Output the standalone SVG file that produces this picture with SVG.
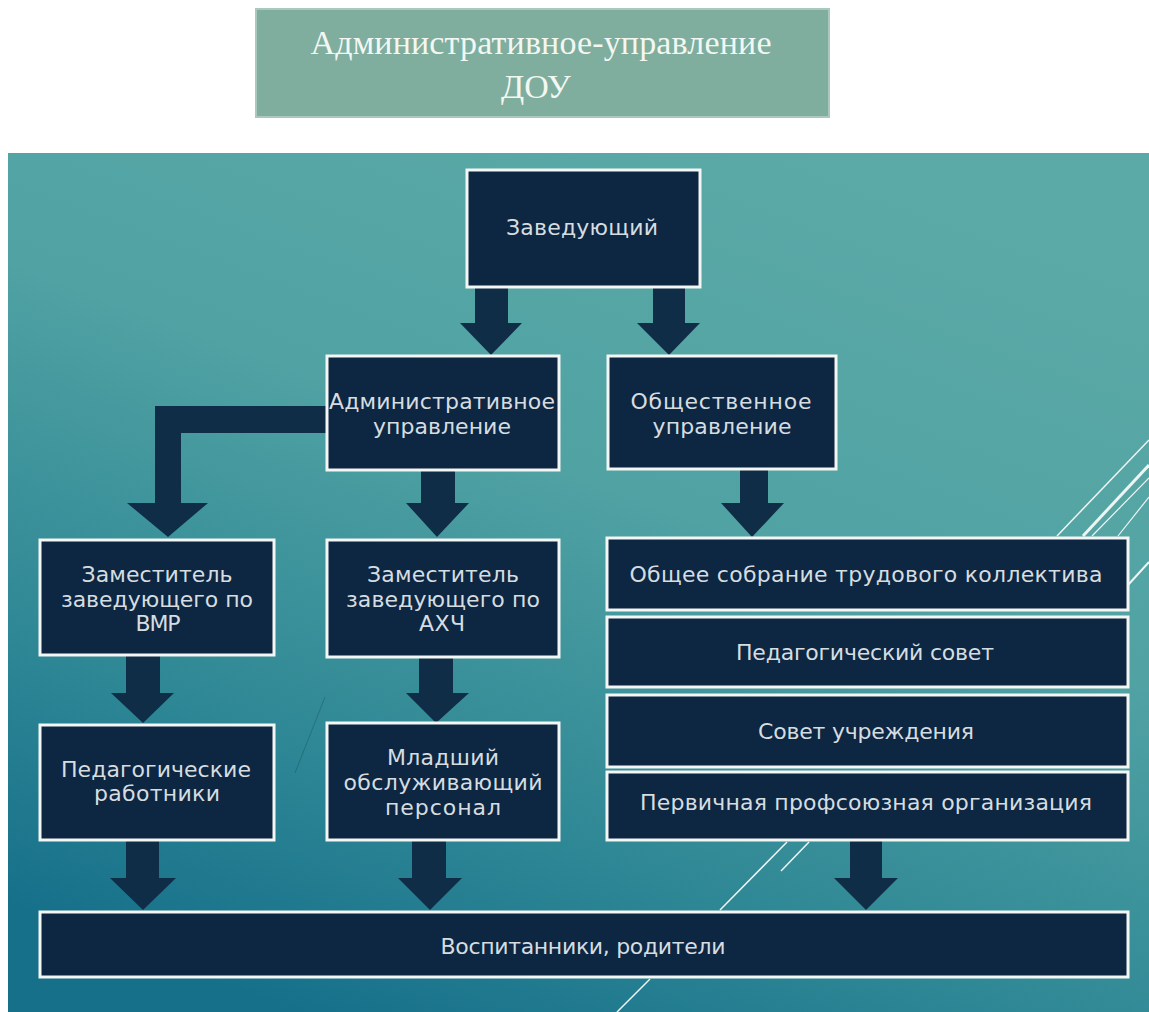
<svg xmlns="http://www.w3.org/2000/svg" width="1149" height="1012" viewBox="0 0 1149 1012">
<defs>
<linearGradient id="bg" x1="0.75" y1="0" x2="0.25" y2="1">
<stop offset="0" stop-color="#5caaa7"/>
<stop offset="0.4" stop-color="#50a2a3"/>
<stop offset="0.75" stop-color="#2e8795"/>
<stop offset="1" stop-color="#16708a"/>
</linearGradient>
<style>
.node rect{fill:#0d2742;stroke:#f4f6f4;stroke-width:3}
.node text{font-family:"DejaVu Sans","Noto Sans",sans-serif;font-size:22px;fill:#d6dde0;text-anchor:middle}
.arrow{fill:#0f2d47}
.deco{stroke:#eef6f4;fill:none}
.title{font-family:"Liberation Serif","DejaVu Serif",serif;font-size:34px;fill:#f3f7f3;text-anchor:middle}
</style>
</defs>
<rect x="0" y="0" width="1149" height="1012" fill="#ffffff"/>
<rect x="8" y="153" width="1141" height="859" fill="url(#bg)"/>
<g id="title">
<rect x="256" y="9" width="573" height="108" fill="#7fae9e" stroke="#a9c9bc" stroke-width="2"/>
<text class="title" x="541" y="54" textLength="461" lengthAdjust="spacing">Административное-управление</text>
<text class="title" x="536" y="98">ДОУ</text>
</g>
<g id="decorations">
<line class="deco" x1="1149" y1="440" x2="1057" y2="536" stroke-width="1.5"/>
<line class="deco" x1="1149" y1="465" x2="1083" y2="536" stroke-width="3"/>
<line class="deco" x1="1149" y1="478" x2="1092" y2="536" stroke-width="1.2"/>
<line class="deco" x1="1149" y1="497" x2="1118" y2="536" stroke-width="1.2"/>
<line class="deco" x1="1128" y1="585" x2="1149" y2="562" stroke-width="2"/>
<line class="deco" x1="787" y1="842" x2="720" y2="910" stroke-width="1.5"/>
<line class="deco" x1="809" y1="842" x2="781" y2="871" stroke-width="1.5"/>
<line class="deco" x1="650" y1="979" x2="617" y2="1012" stroke-width="1.5"/>
<line x1="325" y1="697" x2="295" y2="773" stroke="#0e3a4a" stroke-width="1" opacity="0.3"/>
</g>
<g id="connectors">
<polygon class="arrow" points="475,287 508,287 508,323 522,323 491,355 460,323 475,323"/>
<polygon class="arrow" points="653,287 685,287 685,323 700,323 669,355 637,323 653,323"/>
<polygon class="arrow" points="327,406 155,406 155,503 127,503 168,537 208,503 181,503 181,433 327,433"/>
<polygon class="arrow" points="421,470 455,470 455,503 469,503 437,537 406,503 421,503"/>
<polygon class="arrow" points="740,469 768,469 768,503 784,503 752,537 721,503 740,503"/>
<polygon class="arrow" points="126,655 160,655 160,693 174,693 143,723 111,693 126,693"/>
<polygon class="arrow" points="419,657 453,657 453,693 469,693 436,723 406,693 419,693"/>
<polygon class="arrow" points="126,840 159,840 159,878 176,878 143,910 110,878 126,878"/>
<polygon class="arrow" points="412,840 446,840 446,878 462,878 430,910 398,878 412,878"/>
<polygon class="arrow" points="850,840 882,840 882,878 898,878 866,910 834,878 850,878"/>
</g>
<g id="zav" class="node">
<rect x="467" y="170" width="233" height="117"/>
<text x="582" y="235" textLength="152" lengthAdjust="spacing">Заведующий</text>
</g>
<g id="adm" class="node">
<rect x="327" y="356" width="232" height="114"/>
<text x="442" y="409" textLength="226" lengthAdjust="spacing">Административное</text>
<text x="442" y="434" textLength="138" lengthAdjust="spacing">управление</text>
</g>
<g id="obsh" class="node">
<rect x="608" y="356" width="228" height="113"/>
<text x="721" y="409" textLength="181" lengthAdjust="spacing">Общественное</text>
<text x="722" y="434" textLength="139" lengthAdjust="spacing">управление</text>
</g>
<g id="vmr" class="node">
<rect x="40" y="540" width="234" height="115"/>
<text x="157" y="582" textLength="151" lengthAdjust="spacing">Заместитель</text>
<text x="157" y="607" textLength="192" lengthAdjust="spacing">заведующего по</text>
<text x="158" y="631" textLength="45" lengthAdjust="spacing">ВМР</text>
</g>
<g id="ahch" class="node">
<rect x="327" y="540" width="232" height="117"/>
<text x="443" y="582" textLength="152" lengthAdjust="spacing">Заместитель</text>
<text x="443" y="607" textLength="194" lengthAdjust="spacing">заведующего по</text>
<text x="442" y="631" textLength="46" lengthAdjust="spacing">АХЧ</text>
</g>
<g id="ped" class="node">
<rect x="40" y="725" width="234" height="115"/>
<text x="156" y="777" textLength="190" lengthAdjust="spacing">Педагогические</text>
<text x="157" y="801" textLength="126" lengthAdjust="spacing">работники</text>
</g>
<g id="mlad" class="node">
<rect x="327" y="723" width="232" height="117"/>
<text x="443" y="765" textLength="112" lengthAdjust="spacing">Младший</text>
<text x="443" y="790" textLength="199" lengthAdjust="spacing">обслуживающий</text>
<text x="443" y="815" textLength="116" lengthAdjust="spacing">персонал</text>
</g>
<g id="s1" class="node">
<rect x="607" y="538" width="521" height="72"/>
<text x="866" y="582" textLength="473" lengthAdjust="spacing">Общее собрание трудового коллектива</text>
</g>
<g id="s2" class="node">
<rect x="607" y="617" width="521" height="70"/>
<text x="865" y="660" textLength="258" lengthAdjust="spacing">Педагогический совет</text>
</g>
<g id="s3" class="node">
<rect x="607" y="695" width="521" height="72"/>
<text x="866" y="739" textLength="216" lengthAdjust="spacing">Совет учреждения</text>
</g>
<g id="s4" class="node">
<rect x="607" y="772" width="521" height="68"/>
<text x="866" y="810" textLength="452" lengthAdjust="spacing">Первичная профсоюзная организация</text>
</g>
<g id="vosp" class="node">
<rect x="40" y="912" width="1088" height="65"/>
<text x="583" y="954" textLength="285" lengthAdjust="spacing">Воспитанники, родители</text>
</g>
</svg>
